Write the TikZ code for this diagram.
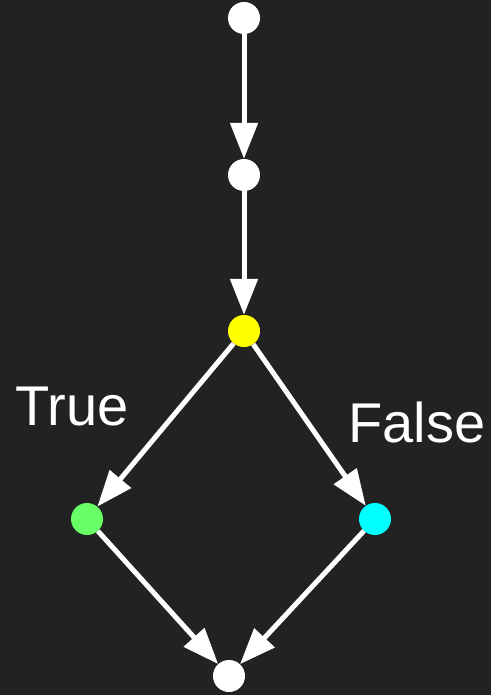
\documentclass[tikz,border=0pt]{standalone}
\usepackage{fontspec}
\setmainfont{Liberation Sans}
\usetikzlibrary{arrows.meta}
\definecolor{bg}{HTML}{222222}
\definecolor{gnode}{HTML}{66FF66}
\definecolor{cnode}{HTML}{00FFFF}
\definecolor{ynode}{HTML}{FFFF00}
\begin{document}
\begin{tikzpicture}[x=1pt,y=-1pt,
  dot/.style={circle,minimum size=32pt,inner sep=0pt,fill=#1},
  flow/.style={white,line width=5pt,-{Triangle[length=36pt,width=27pt]}},
  lbl/.style={white,font=\fontsize{56}{60}\selectfont,anchor=base}]
\fill[bg] (0,0) rectangle (491,695);
\useasboundingbox (0,0) rectangle (491,695);
\node[dot=white] (n1) at (244,18) {};
\node[dot=white] (n2) at (244,175) {};
\node[dot=ynode] (n3) at (244,331) {};
\node[dot=gnode] (t) at (87,519) {};
\node[dot=cnode] (f) at (375,519) {};
\node[dot=white] (n4) at (229,676) {};
\draw[flow] (n1) -- (n2);
\draw[flow] (n2) -- (n3);
\draw[flow] (n3) -- (t);
\draw[flow] (n3) -- (f);
\draw[flow] (t) -- (n4);
\draw[flow] (f) -- (n4);
\node[lbl] (lt) at (72,425) {True};
\node[lbl] (lf) at (417,442) {False};
\end{tikzpicture}
\end{document}
